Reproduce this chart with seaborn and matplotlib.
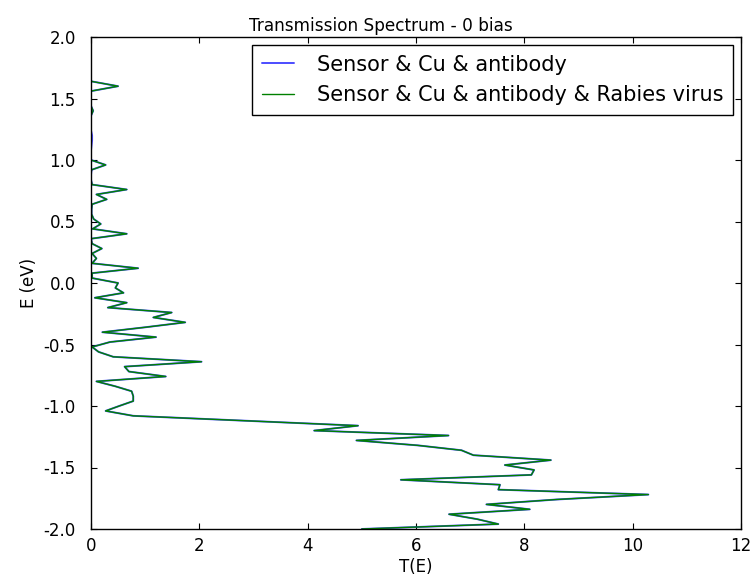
import numpy as np
import pandas as pd
import matplotlib
matplotlib.use("Agg")
import matplotlib.pyplot as plt
import seaborn as sns

# Energy grid (eV), from -2.0 to 2.0 in steps of 0.04
energy = [-2.00, -1.96, -1.92, -1.88, -1.84, -1.80, -1.76, -1.72, -1.68, -1.64,
          -1.60, -1.56, -1.52, -1.48, -1.44, -1.40, -1.36, -1.32, -1.28, -1.24,
          -1.20, -1.16, -1.12, -1.08, -1.04, -1.00, -0.96, -0.92, -0.88, -0.84,
          -0.80, -0.76, -0.72, -0.68, -0.64, -0.60, -0.56, -0.52, -0.48, -0.44,
          -0.40, -0.36, -0.32, -0.28, -0.24, -0.20, -0.16, -0.12, -0.08, -0.04,
          0.00, 0.04, 0.08, 0.12, 0.16, 0.20, 0.24, 0.28, 0.32, 0.36,
          0.40, 0.44, 0.48, 0.52, 0.56, 0.60, 0.64, 0.68, 0.72, 0.76,
          0.80, 0.84, 0.88, 0.92, 0.96, 1.00, 1.04, 1.08, 1.12, 1.16,
          1.20, 1.24, 1.28, 1.32, 1.36, 1.40, 1.44, 1.48, 1.52, 1.56,
          1.60, 1.64, 1.68, 1.72, 1.76, 1.80, 1.84, 1.88, 1.92, 1.96, 2.00]

# T(E) for Sensor & Cu & antibody
t_antibody = [5.00, 7.52, 7.13, 6.61, 8.10, 7.30, 8.60, 10.29, 7.52, 7.55,
              5.72, 8.13, 8.18, 7.64, 8.49, 7.06, 6.84, 6.03, 4.90, 6.60,
              4.12, 4.93, 2.86, 0.78, 0.27, 0.52, 0.78, 0.78, 0.75, 0.45,
              0.10, 1.38, 0.70, 0.62, 2.04, 0.41, 0.14, 0.02, 0.35, 1.20,
              0.21, 1.00, 1.74, 1.15, 1.49, 0.31, 0.66, 0.07, 0.60, 0.45,
              0.50, 0.02, 0.02, 0.87, 0.02, 0.10, 0.02, 0.20, 0.02, 0.00,
              0.66, 0.03, 0.18, 0.05, 0.01, 0.01, 0.02, 0.29, 0.10, 0.66,
              0.02, 0.00, 0.00, 0.01, 0.27, 0.00, 0.00, 0.00, 0.01, 0.02,
              0.02, 0.00, 0.00, 0.00, 0.00, 0.04, 0.00, 0.00, 0.00, 0.00,
              0.50, 0.00, 0.00, 0.00, 0.00, 0.00, 0.00, 0.00, 0.00, 0.00, 0.00]

# T(E) for Sensor & Cu & antibody & Rabies virus (visually identical)
t_virus = [5.00, 7.52, 7.13, 6.61, 8.10, 7.30, 8.60, 10.29, 7.52, 7.55,
           5.72, 8.13, 8.18, 7.64, 8.49, 7.06, 6.84, 6.03, 4.90, 6.60,
           4.12, 4.93, 2.86, 0.78, 0.27, 0.52, 0.78, 0.78, 0.75, 0.45,
           0.10, 1.38, 0.70, 0.62, 2.04, 0.41, 0.14, 0.02, 0.35, 1.20,
           0.21, 1.00, 1.74, 1.15, 1.49, 0.31, 0.66, 0.07, 0.60, 0.45,
           0.50, 0.02, 0.02, 0.87, 0.02, 0.10, 0.02, 0.20, 0.02, 0.00,
           0.66, 0.03, 0.18, 0.05, 0.01, 0.01, 0.02, 0.29, 0.10, 0.66,
           0.02, 0.00, 0.00, 0.01, 0.27, 0.00, 0.00, 0.00, 0.00, 0.00,
           0.00, 0.00, 0.00, 0.00, 0.00, 0.04, 0.00, 0.00, 0.00, 0.00,
           0.50, 0.00, 0.00, 0.00, 0.00, 0.00, 0.00, 0.00, 0.00, 0.00, 0.00]

labels = ["Sensor & Cu & antibody", "Sensor & Cu & antibody & Rabies virus"]
x_ticks = [0, 2, 4, 6, 8, 10, 12]
y_ticks = [-2.0, -1.5, -1.0, -0.5, 0.0, 0.5, 1.0, 1.5, 2.0]

sns.set_theme(style="white", rc={
    "xtick.direction": "in", "ytick.direction": "in",
    "xtick.top": True, "ytick.right": True,
    "xtick.bottom": True, "ytick.left": True,
    "xtick.major.size": 4, "ytick.major.size": 4,
    "xtick.major.width": 0.8, "ytick.major.width": 0.8,
    "axes.edgecolor": "black", "axes.linewidth": 1.0,
    "text.color": "black", "axes.labelcolor": "black",
    "xtick.color": "black", "ytick.color": "black",
})
plt.rcParams["font.family"] = ["DejaVu Sans"]

fig = plt.figure(figsize=(7.54, 5.81), dpi=100)
ax = fig.add_axes([91/754, 1 - 529/581, 650/754, 492/581])

df_a = pd.DataFrame({"T": t_antibody, "E": energy})
df_v = pd.DataFrame({"T": t_virus, "E": energy})
sns.lineplot(data=df_a, x="T", y="E", sort=False, estimator=None, ax=ax,
             color="#0000ff", lw=1.4, alpha=0.7, label=labels[0])
sns.lineplot(data=df_v, x="T", y="E", sort=False, estimator=None, ax=ax,
             color="#008000", lw=1.0, label=labels[1])

ax.set_xlim(0, 12)
ax.set_ylim(-2, 2)
ax.set_xticks(x_ticks)
ax.set_yticks(y_ticks)
ax.set_xticklabels([str(v) for v in x_ticks])
ax.set_yticklabels([f"{v:.1f}" for v in y_ticks])
ax.tick_params(axis="x", labelsize=12, colors="black", pad=6)
ax.tick_params(axis="y", labelsize=12, colors="black", pad=11)
for s in ax.spines.values():
    s.set_visible(True)
    s.set_color("black")
ax.set_xlabel("T(E)", fontsize=12, labelpad=2)
ax.set_ylabel("E (eV)", fontsize=12, labelpad=4)
ax.set_title("Transmission Spectrum - 0 bias", fontsize=12.2, pad=4, x=0.446)

leg = ax.legend(loc="upper right", fontsize=15, frameon=True, fancybox=False,
                edgecolor="black", framealpha=1, borderpad=0.45,
                labelspacing=0.5, handlelength=1.55, handletextpad=1.1,
                borderaxespad=0.4)
leg.get_frame().set_linewidth(1.0)

fig.savefig("out.png", dpi=100)
